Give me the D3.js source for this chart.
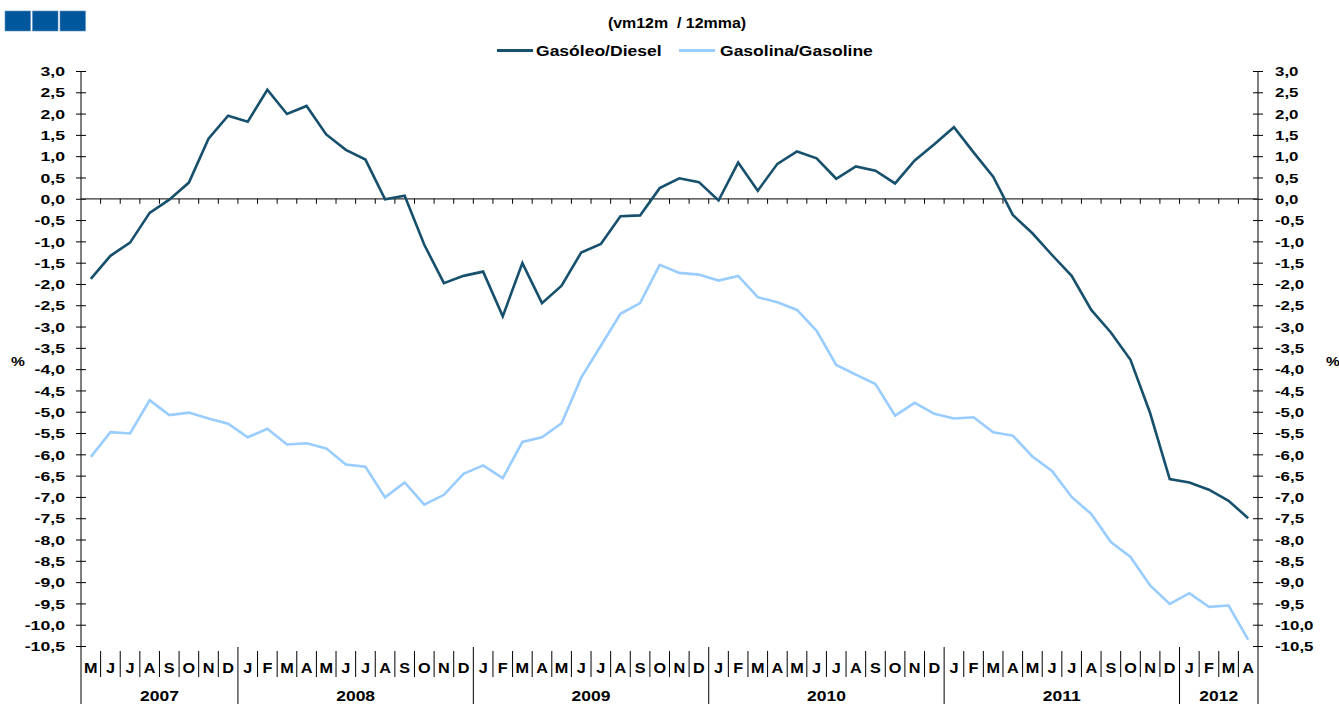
<!DOCTYPE html>
<html>
<head>
<meta charset="utf-8">
<script src="https://cdn.jsdelivr.net/npm/d3@7"></script>
<style>
  html, body { margin: 0; padding: 0; background: #fff; }
  svg { display: block; }
  text { font-family: Arial, "Liberation Sans", sans-serif; font-weight: bold; fill: #000; }
</style>
</head>
<body>
<svg id="chart" width="1339" height="704"></svg>
<script>
// Month initials, May 2007 – April 2012
const monthLabels = [
  "M","J","J","A","S","O","N","D",
  "J","F","M","A","M","J","J","A","S","O","N","D",
  "J","F","M","A","M","J","J","A","S","O","N","D",
  "J","F","M","A","M","J","J","A","S","O","N","D",
  "J","F","M","A","M","J","J","A","S","O","N","D",
  "J","F","M","A"
];
const years = ["2007", "2008", "2009", "2010", "2011", "2012"];
const monthsPerYear = [8, 12, 12, 12, 12, 4];

// 12-month moving average, year-on-year change (%)
const diesel = [
  -1.88, -1.34, -1.03, -0.33, -0.02, 0.38, 1.41, 1.95,
  1.81, 2.56, 1.99, 2.18, 1.51, 1.15, 0.92, -0.01, 0.07, -1.08, -1.98, -1.81,
  -1.71, -2.76, -1.51, -2.45, -2.04, -1.26, -1.06, -0.41, -0.39, 0.25, 0.48, 0.39,
  -0.04, 0.85, 0.19, 0.82, 1.11, 0.95, 0.47, 0.76, 0.66, 0.36, 0.90, 1.28,
  1.68, 1.09, 0.52, -0.38, -0.81, -1.32, -1.81, -2.61, -3.14, -3.78, -5.03, -6.58,
  -6.66, -6.83, -7.09, -7.50
];
const gasoline = [
  -6.06, -5.48, -5.51, -4.73, -5.08, -5.02, -5.16, -5.28,
  -5.60, -5.40, -5.77, -5.74, -5.86, -6.24, -6.29, -7.01, -6.66, -7.18, -6.95, -6.46,
  -6.26, -6.56, -5.71, -5.60, -5.27, -4.20, -3.45, -2.70, -2.45, -1.55, -1.74, -1.78,
  -1.92, -1.81, -2.31, -2.43, -2.61, -3.10, -3.90, -4.13, -4.35, -5.09, -4.79, -5.05,
  -5.16, -5.13, -5.48, -5.56, -6.05, -6.39, -7.00, -7.40, -8.06, -8.41, -9.08, -9.51,
  -9.26, -9.58, -9.55, -10.35
];
const yTicks = d3.range(-10.5, 3.001, 0.5);

const seriesNames = ["Gasóleo/Diesel", "Gasolina/Gasoline"];
const seriesColors = ["#17506c", "#99ccff"];
const titleText = "(vm12m  / 12mma)";

const svg = d3.select("#chart");
const plotLeft = 81, plotRight = 1258, plotTop = 71, plotBottom = 646;

const x = d3.scaleBand().domain(d3.range(monthLabels.length)).range([plotLeft, plotRight]).padding(0);
const y = d3.scaleLinear().domain([-10.5, 3]).range([plotBottom, plotTop]);
const cx = i => x(i) + x.bandwidth() / 2;

const locale = d3.formatLocale({ decimal: ",", thousands: ".", grouping: [3], currency: ["", "€"], minus: "-" });
const fmt = locale.format(".1f");

// Header blocks
svg.append("g").selectAll("rect").data([0, 1, 2]).join("rect")
  .attr("x", d => 5 + d * 27.5).attr("y", 11).attr("width", 25.5).attr("height", 20)
  .attr("fill", "#00579b").attr("stroke", "#5b8fc0").attr("stroke-width", 0.6);

// Title
svg.append("text").attr("font-size", 14.5).attr("text-anchor", "middle")
  .style("white-space", "pre")
  .attr("transform", "translate(677,28) scale(1.1,1)")
  .text(titleText);

// Legend
const legend = svg.append("g");
const legendItems = [{ x1: 497, x2: 533, tx: 536 }, { x1: 679, x2: 715, tx: 720 }];
legendItems.forEach((it, k) => {
  legend.append("line").attr("x1", it.x1).attr("x2", it.x2).attr("y1", 50.5).attr("y2", 50.5)
    .attr("stroke", seriesColors[k]).attr("stroke-width", 3);
  legend.append("text").attr("font-size", 13.8)
    .attr("transform", `translate(${it.tx},55.5) scale(1.27,1)`)
    .text(seriesNames[k]);
});

// Left axis
const gl = svg.append("g").attr("transform", `translate(${plotLeft},0)`)
  .call(d3.axisLeft(y).tickValues(yTicks).tickFormat(fmt).tickSize(5).tickSizeOuter(0));
gl.select(".domain").remove();
gl.selectAll(".tick line").attr("x1", -5).attr("x2", 5).attr("stroke", "#000");
gl.selectAll(".tick text").attr("x", 0).attr("dy", "0.36em")
  .attr("transform", "translate(-16,0) scale(1.36,1)")
  .attr("font-size", 13).attr("font-family", "Arial, 'Liberation Sans', sans-serif").attr("font-weight", "bold");
svg.append("line").attr("x1", plotLeft).attr("x2", plotLeft).attr("y1", plotTop).attr("y2", 704).attr("stroke", "#000");

// Right axis
const gr = svg.append("g").attr("transform", `translate(${plotRight},0)`)
  .call(d3.axisRight(y).tickValues(yTicks).tickFormat(fmt).tickSize(5).tickSizeOuter(0));
gr.select(".domain").remove();
gr.selectAll(".tick line").attr("x1", -5).attr("x2", 5).attr("stroke", "#000");
gr.selectAll(".tick text").attr("x", 0).attr("dy", "0.36em")
  .attr("transform", "translate(17,0) scale(1.3,1)")
  .attr("font-size", 13).attr("font-family", "Arial, 'Liberation Sans', sans-serif").attr("font-weight", "bold");
svg.append("line").attr("x1", plotRight).attr("x2", plotRight).attr("y1", plotTop).attr("y2", 704).attr("stroke", "#000");

// Unit labels
svg.append("text").attr("font-size", 13).attr("transform", "translate(11,366) scale(1.2,1)").text("%");
svg.append("text").attr("font-size", 13).attr("transform", "translate(1326,366) scale(1.2,1)").text("%");

// Zero line with category ticks
svg.append("line").attr("x1", plotLeft).attr("x2", plotRight).attr("y1", y(0)).attr("y2", y(0))
  .attr("stroke", "#333").attr("stroke-width", 1.2);
svg.append("g").selectAll("line").data(d3.range(1, monthLabels.length)).join("line")
  .attr("x1", d => x(d)).attr("x2", d => x(d))
  .attr("y1", y(0)).attr("y2", y(0) + 5).attr("stroke", "#000");

// Month labels and separators
const yearStarts = [];
monthsPerYear.reduce((acc, n) => { yearStarts.push(acc); return acc + n; }, 0);
const isYearStart = new Set(yearStarts);

svg.append("g").selectAll("line").data(d3.range(1, monthLabels.length)).join("line")
  .attr("x1", d => x(d)).attr("x2", d => x(d))
  .attr("y1", d => isYearStart.has(d) ? 647 : 651)
  .attr("y2", d => isYearStart.has(d) ? 704 : 677)
  .attr("stroke", "#000");

svg.append("g").selectAll("text").data(monthLabels).join("text")
  .attr("font-size", 14.5).attr("text-anchor", "middle")
  .attr("transform", (d, i) => `translate(${cx(i)},673) scale(1.12,1)`)
  .text(d => d);

svg.append("g").selectAll("text").data(years).join("text")
  .attr("font-size", 14).attr("text-anchor", "middle")
  .attr("transform", (d, k) => {
    const s = yearStarts[k], e = s + monthsPerYear[k];
    const mid = (x(s) + x(e - 1) + x.bandwidth()) / 2;
    return `translate(${mid},701) scale(1.25,1)`;
  })
  .text(d => d);

// Series lines
const line = d3.line().x((d, i) => cx(i)).y(d => y(d));
[gasoline, diesel].forEach((s, k) => {
  svg.append("path").datum(s)
    .attr("fill", "none")
    .attr("stroke", k === 0 ? seriesColors[1] : seriesColors[0])
    .attr("stroke-width", 2.6)
    .attr("stroke-linejoin", "miter")
    .attr("d", line);
});
</script>
</body>
</html>
